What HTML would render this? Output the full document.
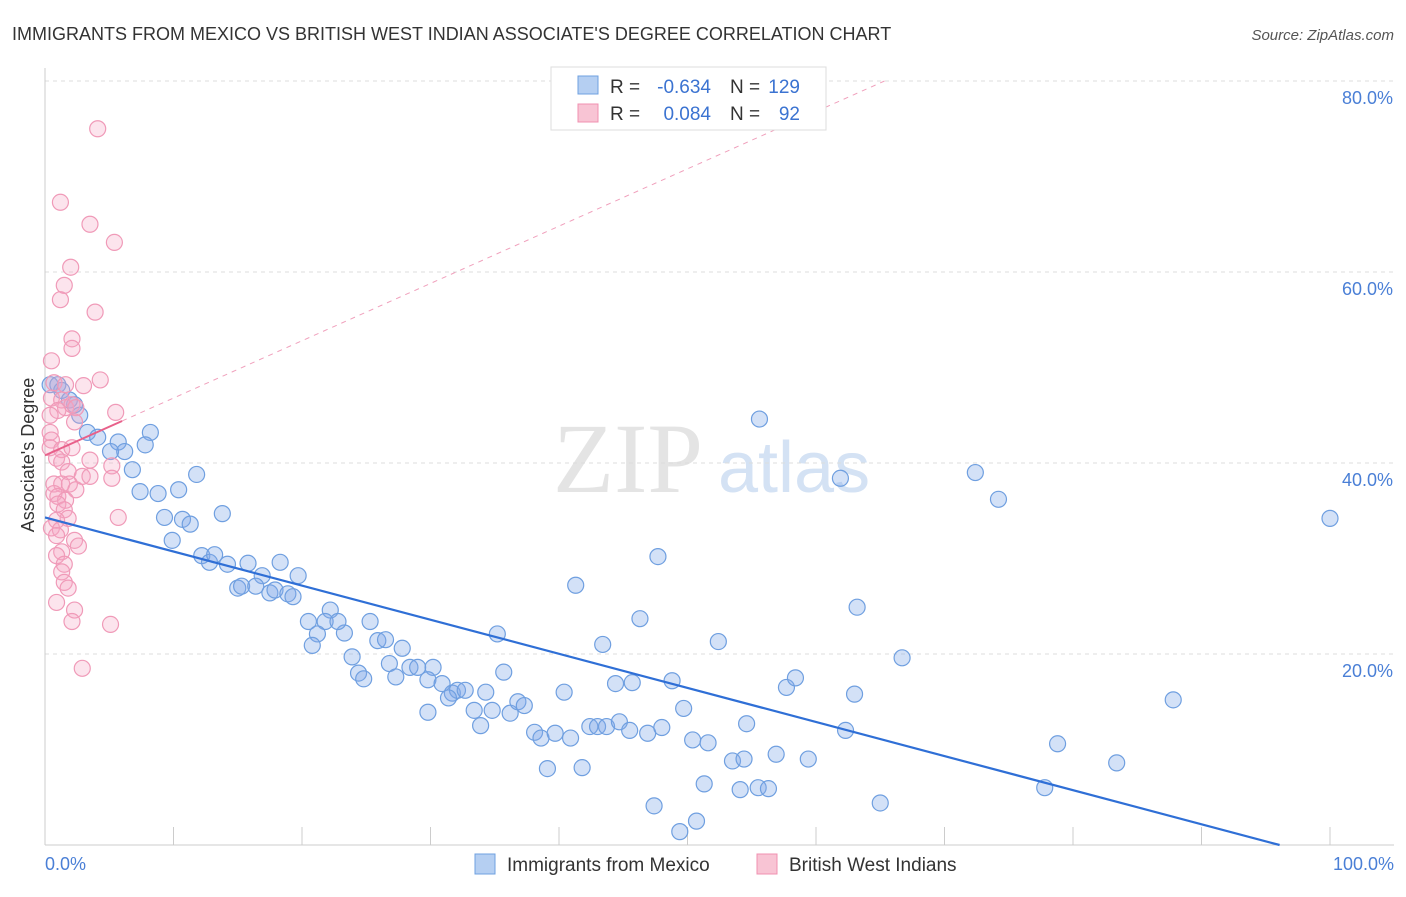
<!DOCTYPE html>
<html><head><meta charset="utf-8"><style>
body{margin:0;background:#fff;font-family:"Liberation Sans",sans-serif;}
svg text{font-family:"Liberation Sans",sans-serif;}
</style></head><body>
<svg width="1406" height="892" viewBox="0 0 1406 892">
<text x="12" y="40" font-size="18" fill="#333">IMMIGRANTS FROM MEXICO VS BRITISH WEST INDIAN ASSOCIATE'S DEGREE CORRELATION CHART</text>
<text x="1394" y="40" font-size="15" fill="#555" font-style="italic" text-anchor="end">Source: ZipAtlas.com</text>
<text x="553" y="492" font-size="100" fill="#e4e4e4" font-family="Liberation Serif" style="font-family:'Liberation Serif',serif">ZIP</text>
<text x="718" y="492" font-size="72" fill="#d4e2f4">atlas</text>
<g id="grid"></g>
<g id="axes"></g>
<g id="pts"></g>
<g id="lines"></g>
<text transform="translate(34,455) rotate(-90)" font-size="18" fill="#333" text-anchor="middle">Associate's Degree</text>
<text x="45" y="870" font-size="18" fill="#4a7fd6">0.0%</text>
<text x="1394" y="870" font-size="18" fill="#4a7fd6" text-anchor="end">100.0%</text>
<g>
<rect x="551" y="67" width="275" height="63" fill="#fff" stroke="#ddd"/>
<rect x="578" y="76" width="20" height="18" fill="#b5cff2" stroke="#6fa0e0"/>
<rect x="578" y="104" width="20" height="18" fill="#f8c4d4" stroke="#f090b0"/>
<text x="610" y="93" font-size="19" fill="#333">R =</text>
<text x="711" y="93" font-size="19" fill="#3b73d1" text-anchor="end">-0.634</text>
<text x="730" y="93" font-size="19" fill="#333">N =</text>
<text x="800" y="93" font-size="19" fill="#3b73d1" text-anchor="end">129</text>
<text x="610" y="120" font-size="19" fill="#333">R =</text>
<text x="711" y="120" font-size="19" fill="#3b73d1" text-anchor="end">0.084</text>
<text x="730" y="120" font-size="19" fill="#333">N =</text>
<text x="800" y="120" font-size="19" fill="#3b73d1" text-anchor="end">92</text>
</g>
<g>
<rect x="475" y="854" width="20" height="20" fill="#b5cff2" stroke="#6fa0e0"/>
<text x="507" y="871" font-size="19" fill="#333">Immigrants from Mexico</text>
<rect x="757" y="854" width="20" height="20" fill="#f8c4d4" stroke="#f090b0"/>
<text x="789" y="871" font-size="19" fill="#333">British West Indians</text>
</g>
</svg>
<script>
const yTicks=[20,40,60,80];
const xTicks=[0,10,20,30,40,50,60,70,80,90,100];
const blueX=[0.4,1.0,1.3,1.9,2.3,2.7,3.3,4.1,5.7,6.2,5.1,8.2,7.8,6.8,7.4,8.8,10.4,11.8,9.3,10.7,11.3,13.8,9.9,12.2,12.8,13.2,14.2,15.8,16.9,18.3,19.7,15.0,15.3,16.4,17.5,17.9,18.9,19.3,20.5,22.2,21.8,21.2,20.8,23.3,22.8,25.3,25.9,26.5,27.8,23.9,24.4,24.8,26.8,27.3,28.4,29.0,30.2,29.8,30.9,31.7,32.1,32.7,31.4,34.3,33.4,29.8,33.9,34.8,36.2,36.8,37.3,35.7,35.2,38.1,38.6,39.7,40.9,39.1,41.8,40.4,41.3,42.4,43.0,43.7,44.7,45.5,46.9,48.0,43.4,44.4,45.7,46.3,47.7,48.8,49.7,50.4,51.6,51.3,52.4,47.4,49.4,50.7,53.5,54.4,54.6,54.1,55.5,56.3,56.9,57.7,58.4,59.4,55.6,61.9,62.3,63.0,63.2,65.0,66.7,72.4,74.2,77.8,78.8,83.4,87.8,100.0];
const blueY=[48.2,48.2,47.6,46.6,46.1,45.0,43.2,42.7,42.2,41.2,41.2,43.2,41.9,39.3,37.0,36.8,37.2,38.8,34.3,34.1,33.6,34.7,31.9,30.3,29.6,30.4,29.4,29.5,28.2,29.6,28.2,26.9,27.1,27.1,26.4,26.7,26.3,26.0,23.4,24.6,23.4,22.1,20.9,22.2,23.4,23.4,21.4,21.5,20.6,19.7,18.0,17.4,19.0,17.6,18.6,18.6,18.6,17.3,16.9,15.9,16.2,16.2,15.4,16.0,14.1,13.9,12.5,14.1,13.8,15.0,14.6,18.1,22.1,11.8,11.2,11.7,11.2,8.0,8.1,16.0,27.2,12.4,12.4,12.4,12.9,12.0,11.7,12.3,21.0,16.9,17.0,23.7,30.2,17.2,14.3,11.0,10.7,6.4,21.3,4.1,1.4,2.5,8.8,9.0,12.7,5.8,6.0,5.9,9.5,16.5,17.5,9.0,44.6,38.4,12.0,15.8,24.9,4.4,19.6,39.0,36.2,6.0,10.6,8.6,15.2,34.2];
const pinkX=[4.1,1.2,3.5,5.4,2.0,1.5,1.2,3.9,2.1,2.1,0.5,3.0,4.3,0.7,1.6,0.5,1.3,1.6,2.1,2.4,1.0,5.5,0.4,2.3,0.4,0.5,0.4,1.3,2.1,0.9,1.3,3.5,5.2,1.8,2.9,3.5,5.2,0.7,1.3,1.9,2.4,0.7,1.0,1.6,1.0,1.5,1.8,5.7,0.9,0.5,1.2,0.9,2.3,2.6,1.3,0.9,1.5,1.3,1.5,1.8,0.9,2.3,2.1,5.1,2.9];
const pinkY=[75.0,67.3,65.0,63.1,60.5,58.6,57.1,55.8,53.0,52.0,50.7,48.1,48.7,48.4,48.2,46.8,46.6,45.8,46.1,45.8,45.5,45.3,45.0,44.3,43.2,42.4,41.6,41.4,41.6,40.5,40.1,40.3,39.7,39.1,38.6,38.6,38.4,37.8,37.8,37.8,37.2,36.8,36.5,36.1,35.7,35.1,34.2,34.3,34.0,33.2,33.0,32.4,31.9,31.3,30.7,30.3,29.4,28.6,27.5,26.9,25.4,24.6,23.4,23.1,18.5];
const blueFit=[34.3,-0.357];const pinkFit=[40.8,0.6];
const X0=45,X1=1330,Y0=845,YS=9.55;
function sx(v){return X0+(X1-X0)*v/100;}
function sy(v){return Y0-v*YS;}
const NS="http://www.w3.org/2000/svg";
function mk(tag,at,parent){const e=document.createElementNS(NS,tag);for(const k in at)e.setAttribute(k,at[k]);document.getElementById(parent).appendChild(e);return e;}
yTicks.forEach(t=>{
 const l=mk('line',{x1:45,x2:1394,y1:sy(t),y2:sy(t),stroke:'#ddd','stroke-dasharray':'4,4'},'grid');
 
 
 const tx=mk('text',{x:1393,y:sy(t)+23,'font-size':18,fill:'#4a7fd6','text-anchor':'end'},'grid');
 tx.textContent=t.toFixed(1)+'%';
 
 
});
const ax=mk('line',{x1:45,x2:45,y1:68,y2:845,stroke:'#ccc'},'axes');


const bx=mk('line',{x1:45,x2:1394,y1:845,y2:845,stroke:'#ccc'},'axes');


xTicks.forEach(t=>{
 const l=mk('line',{x1:sx(t),x2:sx(t),y1:827,y2:845,stroke:'#ccc'},'axes');
 
 
});
blueX.forEach((v,i)=>{
 const c=mk('circle',{cx:sx(v),cy:sy(blueY[i]),r:8,fill:'rgba(130,170,232,0.35)',stroke:'#6f9fe0','stroke-width':1.2},'pts');
 
 
});
pinkX.forEach((v,i)=>{
 const c=mk('circle',{cx:sx(v),cy:sy(pinkY[i]),r:8,fill:'rgba(245,165,195,0.3)',stroke:'#f09ab8','stroke-width':1.2},'pts');
 
 
});
const xEnd=-blueFit[0]/blueFit[1];
const bl=mk('line',{x1:sx(0),y1:sy(blueFit[0]),x2:sx(xEnd),y2:sy(0),stroke:'#2f6fd6','stroke-width':2.2},'lines');


const pEnd=(80-pinkFit[0])/pinkFit[1];
const pd=mk('line',{x1:sx(6),y1:sy(pinkFit[0]+6*pinkFit[1]),x2:sx(pEnd),y2:sy(80),stroke:'#f0a0bc','stroke-width':1,'stroke-dasharray':'5,5'},'lines');


const pl=mk('line',{x1:sx(0),y1:sy(pinkFit[0]),x2:sx(6),y2:sy(pinkFit[0]+6*pinkFit[1]),stroke:'#e8608a','stroke-width':2},'lines');


</script>
</body></html>
